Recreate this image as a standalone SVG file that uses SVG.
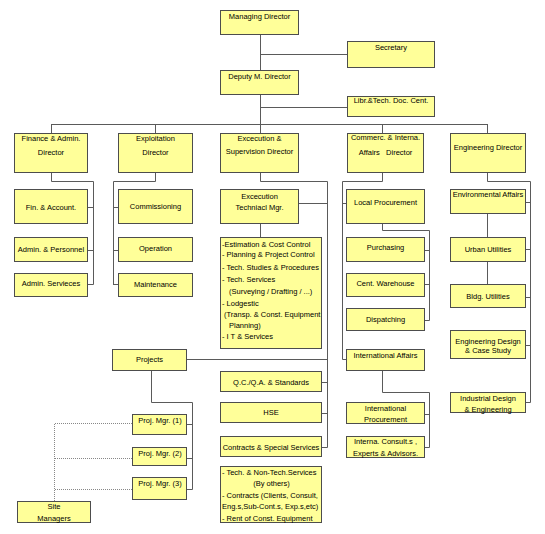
<svg xmlns="http://www.w3.org/2000/svg" width="545" height="534" viewBox="0 0 545 534">
<style>
.b{fill:#ffff99;stroke:#4d4d4d;stroke-width:1}
.t{font-family:"Liberation Sans",Arial,sans-serif;font-size:7.5px;fill:#000;text-anchor:middle;white-space:pre}
.l{font-family:"Liberation Sans",Arial,sans-serif;font-size:7.5px;fill:#000;white-space:pre}
.c{fill:none;stroke:#5a5a5a;stroke-width:1}
.d{fill:none;stroke:#888;stroke-width:1;stroke-dasharray:1 1}
</style>
<rect width="545" height="534" fill="#fff"/>
<g id="connectors">
<path class="c" d="M260.5,35V133M260.5,54.5H347M260.5,107.5H347M51.5,124.5H487.5M51.5,124V133M155.5,124V133M382.5,124V133M487.5,124V133"/>
<path class="c" d="M51.5,173V181.5H93.5V284.5M88,207.5H93.5M88,250.5H93.5M88,284.5H93.5"/>
<path class="c" d="M155.5,173V181.5H113.5V284.5M113,207.5H118M113,250.5H118M113,284.5H118"/>
<path class="c" d="M260.5,173V181.5H327.5V447.5M299,203.5H327.5M260.5,224V237M187,359.5H327.5M322,382.5H327.5M322,413.5H327.5M322,447.5H327.5"/>
<path class="c" d="M151.5,371V402.5H192.5V489.5M187,424.5H192.5M187,458.5H192.5M187,489.5H192.5"/>
<path class="d" d="M132,423.5H54.5V501M132,458.5H54.5M132,489.5H54.5"/>
<path class="c" d="M382.5,173V181.5H342.5V359.5M342.5,203.5H346M342.5,359.5H346"/>
<path class="c" d="M382.5,224V230.5H429.5V320.5M425,250.5H429.5M425,284.5H429.5M425,320.5H429.5"/>
<path class="c" d="M382.5,371V392.5H429.5V447.5M425,414.5H429.5M425,447.5H429.5"/>
<path class="c" d="M487.5,173V181.5H530.5V402.5M526,202.5H530.5M526,249.5H530.5M526,297.5H530.5M526,345.5H530.5M526,402.5H530.5M487.5,214V237M487.5,262V284"/>
</g>
<g id="md"><rect class="b" x="220.5" y="10.5" width="78" height="24"/><text class="t" x="259.5" y="18.7">Managing Director</text></g>
<g id="sec"><rect class="b" x="347.5" y="41.5" width="87" height="26"/><text class="t" x="391" y="49.7">Secretary</text></g>
<g id="dmd"><rect class="b" x="220.5" y="70.5" width="78" height="24"/><text class="t" x="259.5" y="78.7">Deputy M. Director</text></g>
<g id="libr"><rect class="b" x="347.5" y="96.5" width="87" height="20"/><text class="t" x="391" y="102.7">Libr.&amp;Tech. Doc. Cent.</text></g>
<g id="fin"><rect class="b" x="14.5" y="133.5" width="73" height="39"/><text class="t" x="51" y="140.7">Finance &amp; Admin.</text><text class="t" x="51" y="154.7">Director</text></g>
<g id="exp"><rect class="b" x="118.5" y="133.5" width="74" height="39"/><text class="t" x="155.5" y="140.7">Exploitation</text><text class="t" x="155.5" y="154.7">Director</text></g>
<g id="exe"><rect class="b" x="220.5" y="133.5" width="78" height="39"/><text class="t" x="259.5" y="140.7">Excecution &amp;</text><text class="t" x="259.5" y="153.7">Supervision Director</text></g>
<g id="com"><rect class="b" x="347.5" y="133.5" width="76" height="39"/><text class="t" x="385.5" y="139.7">Commerc. &amp; Interna.</text><text class="t" x="385.5" y="154.7">Affairs   Director</text></g>
<g id="eng"><rect class="b" x="450.5" y="133.5" width="75" height="39"/><text class="t" x="488" y="149.7">Engineering Director</text></g>
<g id="fa"><rect class="b" x="14.5" y="189.5" width="73" height="34"/><text class="t" x="51" y="209.7">Fin. &amp; Account.</text></g>
<g id="ap"><rect class="b" x="14.5" y="237.5" width="73" height="24"/><text class="t" x="51" y="251.7">Admin. &amp; Personnel</text></g>
<g id="as"><rect class="b" x="14.5" y="273.5" width="73" height="23"/><text class="t" x="51" y="285.7">Admin. Servieces</text></g>
<g id="comm"><rect class="b" x="118.5" y="189.5" width="74" height="34"/><text class="t" x="155.5" y="208.7">Commissioning</text></g>
<g id="op"><rect class="b" x="118.5" y="237.5" width="74" height="24"/><text class="t" x="155.5" y="250.7">Operation</text></g>
<g id="mt"><rect class="b" x="118.5" y="273.5" width="74" height="23"/><text class="t" x="155.5" y="286.7">Maintenance</text></g>
<g id="etm"><rect class="b" x="220.5" y="189.5" width="78" height="34"/><text class="t" x="259.5" y="198.7">Excecution</text><text class="t" x="259.5" y="209.7">Techniacl Mgr.</text></g>
<g id="list"><rect class="b" x="220.5" y="237.5" width="101" height="111"/>
<text class="l" x="222" y="246.7">-Estimation &amp; Cost Control</text>
<text class="l" x="222" y="256.7">- Planning &amp; Project Control</text>
<text class="l" x="222" y="269.7">- Tech. Studies &amp; Procedures</text>
<text class="l" x="222" y="281.7">- Tech. Services</text>
<text class="l" x="229" y="293.7">(Surveying / Drafting / ...)</text>
<text class="l" x="222" y="305.7">- Lodgestic</text>
<text class="l" x="224" y="316.7">(Transp. &amp; Const. Equipment</text>
<text class="l" x="229" y="327.7">Planning)</text>
<text class="l" x="222" y="338.7">- I T &amp; Services</text></g>
<g id="lp"><rect class="b" x="346.5" y="189.5" width="78" height="34"/><text class="t" x="385.5" y="204.7">Local Procurement</text></g>
<g id="pur"><rect class="b" x="346.5" y="237.5" width="78" height="24"/><text class="t" x="385.5" y="249.7">Purchasing</text></g>
<g id="cw"><rect class="b" x="346.5" y="273.5" width="78" height="23"/><text class="t" x="385.5" y="285.7">Cent. Warehouse</text></g>
<g id="dis"><rect class="b" x="346.5" y="308.5" width="78" height="22"/><text class="t" x="385.5" y="321.7">Dispatching</text></g>
<g id="ia"><rect class="b" x="346.5" y="349.5" width="78" height="21"/><text class="t" x="385.5" y="357.7">International Affairs</text></g>
<g id="ip"><rect class="b" x="346.5" y="402.5" width="78" height="21"/><text class="t" x="385.5" y="410.7">International</text><text class="t" x="385.5" y="421.7">Procurement</text></g>
<g id="ic"><rect class="b" x="346.5" y="436.5" width="78" height="21"/><text class="t" x="385.5" y="443.7">Interna. Consult.s ,</text><text class="t" x="385.5" y="455.7">Experts &amp; Advisors.</text></g>
<g id="env"><rect class="b" x="450.5" y="189.5" width="75" height="24"/><text class="t" x="488" y="196.7">Environmental Affairs</text></g>
<g id="uu"><rect class="b" x="450.5" y="237.5" width="75" height="24"/><text class="t" x="488" y="251.7">Urban Utilities</text></g>
<g id="bu"><rect class="b" x="450.5" y="284.5" width="75" height="23"/><text class="t" x="488" y="298.7">Bldg. Utilities</text></g>
<g id="ed"><rect class="b" x="450.5" y="330.5" width="75" height="28"/><text class="t" x="488" y="343.7">Engineering Design</text><text class="t" x="488" y="352.7">&amp; Case Study</text></g>
<g id="id"><rect class="b" x="450.5" y="392.5" width="75" height="20"/><text class="t" x="488" y="400.7">Industrial Design</text><text class="t" x="488" y="411.7">&amp; Engineering</text></g>
<g id="proj"><rect class="b" x="112.5" y="349.5" width="74" height="21"/><text class="t" x="149.5" y="361.7">Projects</text></g>
<g id="qc"><rect class="b" x="220.5" y="371.5" width="101" height="20"/><text class="t" x="271" y="384.7">Q.C./Q.A. &amp; Standards</text></g>
<g id="hse"><rect class="b" x="220.5" y="402.5" width="101" height="20"/><text class="t" x="271" y="414.7">HSE</text></g>
<g id="cs"><rect class="b" x="220.5" y="436.5" width="101" height="20"/><text class="t" x="271" y="449.7">Contracts &amp; Special Services</text></g>
<g id="tn"><rect class="b" x="220.5" y="466.5" width="101" height="56"/>
<text class="l" x="222" y="474.7">- Tech. &amp; Non-Tech.Services</text>
<text class="t" x="271.5" y="485.7">(By others)</text>
<text class="l" x="222" y="497.7">- Contracts (Clients, Consult,</text>
<text class="l" x="222" y="508.7">Eng.s,Sub-Cont.s, Exp.s,etc)</text>
<text class="l" x="222" y="520.7">- Rent of Const. Equipment</text></g>
<g id="pm1"><rect class="b" x="132.5" y="414.5" width="54" height="20"/><text class="t" x="160" y="422.7">Proj. Mgr. (1)</text></g>
<g id="pm2"><rect class="b" x="132.5" y="447.5" width="54" height="18"/><text class="t" x="160" y="455.7">Proj. Mgr. (2)</text></g>
<g id="pm3"><rect class="b" x="132.5" y="477.5" width="54" height="22"/><text class="t" x="160" y="485.7">Proj. Mgr. (3)</text></g>
<g id="sm"><rect class="b" x="17.5" y="501.5" width="73" height="21"/><text class="t" x="54" y="508.7">Site</text><text class="t" x="54" y="520.7">Managers</text></g>
</svg>
